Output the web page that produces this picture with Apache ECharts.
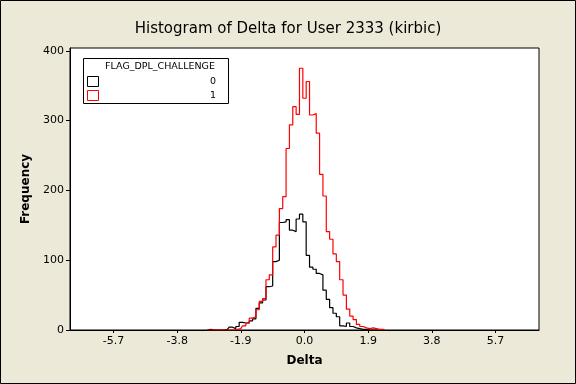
<!DOCTYPE html>
<html><head><meta charset="utf-8">
<script src="https://cdn.jsdelivr.net/npm/echarts@6/dist/echarts.min.js"></script>
<style>html,body{margin:0;padding:0;background:#ECE9D8;}#c{width:576px;height:384px;}</style>
</head><body><div id="c"></div>
<script>
var binCenters = [-2.9,-2.8,-2.7,-2.6,-2.5,-2.4,-2.3,-2.2,-2.1,-2.0,-1.9,-1.8,-1.7,-1.6,-1.5,-1.4,-1.3,-1.2,-1.1,-1.0,-0.9,-0.8,-0.7,-0.6,-0.5,-0.4,-0.3,-0.2,-0.1,0.0,0.1,0.2,0.3,0.4,0.5,0.6,0.7,0.8,0.9,1.0,1.1,1.2,1.3,1.4,1.5,1.6,1.7,1.8,1.9,2.0,2.1,2.2,2.3,2.4];
var counts0 = [0,1,0,0,0,0,1,4,2,5,11,10,10,13,16,31,39,43,62,63,98,100,154,155,158,143,141,159,166,155,107,90,87,81,79,57,44,32,24,19,6,5,10,5,3,2,1,1,0,0,0,0,0,0];
var counts1 = [0,0,0,0,0,0,0,0,0,1,2,6,10,17,19,29,41,45,72,79,119,136,174,191,260,294,320,309,375,332,356,308,310,282,223,192,141,130,109,98,72,50,30,20,15,8,5,3,2,3,2,1,1,0];
var xTicks = [-5.7,-3.8,-1.9,0.0,1.9,3.8,5.7];
var yTicks = [0,100,200,300,400];
var groupLabels = ['0','1'];
var legendTitle = 'FLAG_DPL_CHALLENGE';

function pairs(xs, ys){ return xs.map(function(x,i){return [x, ys[i]];}); }
var font = 'DejaVu Sans';
var chart = echarts.init(document.getElementById('c'));
chart.setOption({
  backgroundColor: '#ECE9D8',
  animation: false,
  title: {
    text: 'Histogram of Delta for User 2333 (kirbic)',
    left: 'center', top: 17,
    textStyle: {fontFamily: font, fontSize: 15, fontWeight: 'normal', color: '#000'}
  },
  grid: {left: 70, top: 48, right: 37, bottom: 54, show: true, backgroundColor: '#fff', borderColor: '#000', borderWidth: 1},
  xAxis: {
    type: 'value', min: -7, max: 7,
    name: 'Delta', nameLocation: 'middle', nameGap: 25,
    nameTextStyle: {fontFamily: font, fontSize: 12, fontWeight: 'bold', color: '#000'},
    axisLine: {show: true, onZero: false, lineStyle: {color: '#000'}},
    axisTick: {show: true, length: 3, customValues: xTicks, lineStyle: {color: '#000'}},
    axisLabel: {customValues: xTicks, fontFamily: font, fontSize: 11, color: '#000', margin: 6,
      formatter: function(v){ return v.toFixed(1); }},
    splitLine: {show: false}
  },
  yAxis: {
    type: 'value', min: 0, max: 404,
    name: 'Frequency', nameLocation: 'middle', nameGap: 35,
    nameTextStyle: {fontFamily: font, fontSize: 12, fontWeight: 'bold', color: '#000'},
    axisLine: {show: true, onZero: false, lineStyle: {color: '#000'}},
    axisTick: {show: true, length: 4, customValues: yTicks, lineStyle: {color: '#000'}},
    axisLabel: {customValues: yTicks, fontFamily: font, fontSize: 11, color: '#000', margin: 6},
    splitLine: {show: false}
  },
  series: [
    {type: 'line', step: 'middle', data: pairs(binCenters, counts0), showSymbol: false,
     lineStyle: {color: '#000', width: 1.2}, itemStyle: {color: '#000'}},
    {type: 'line', step: 'middle', data: pairs(binCenters, counts1), showSymbol: false,
     lineStyle: {color: '#ff0000', width: 1.2}, itemStyle: {color: '#ff0000'}}
  ],
  graphic: [
    {type: 'rect', shape: {x: 0.5, y: 0.5, width: 575, height: 383}, style: {fill: null, stroke: '#000', lineWidth: 1}},
    {type: 'rect', shape: {x: 83.5, y: 58.5, width: 145, height: 45}, style: {fill: '#fff', stroke: '#000', lineWidth: 1}, z: 10},
    {type: 'text', x: 160, y: 67, style: {text: legendTitle, fontFamily: font, fontSize: 9.5, fill: '#000', align: 'center', verticalAlign: 'middle'}, z: 11},
    {type: 'rect', shape: {x: 87.5, y: 76.5, width: 11, height: 10}, style: {fill: '#fff', stroke: '#000', lineWidth: 1}, z: 11},
    {type: 'rect', shape: {x: 87.5, y: 90.5, width: 11, height: 10}, style: {fill: '#fff', stroke: '#ff0000', lineWidth: 1}, z: 11},
    {type: 'text', x: 216, y: 81.5, style: {text: groupLabels[0], fontFamily: font, fontSize: 9.5, fill: '#000', align: 'right', verticalAlign: 'middle'}, z: 11},
    {type: 'text', x: 216, y: 95.5, style: {text: groupLabels[1], fontFamily: font, fontSize: 9.5, fill: '#000', align: 'right', verticalAlign: 'middle'}, z: 11}
  ]
});
</script></body></html>
